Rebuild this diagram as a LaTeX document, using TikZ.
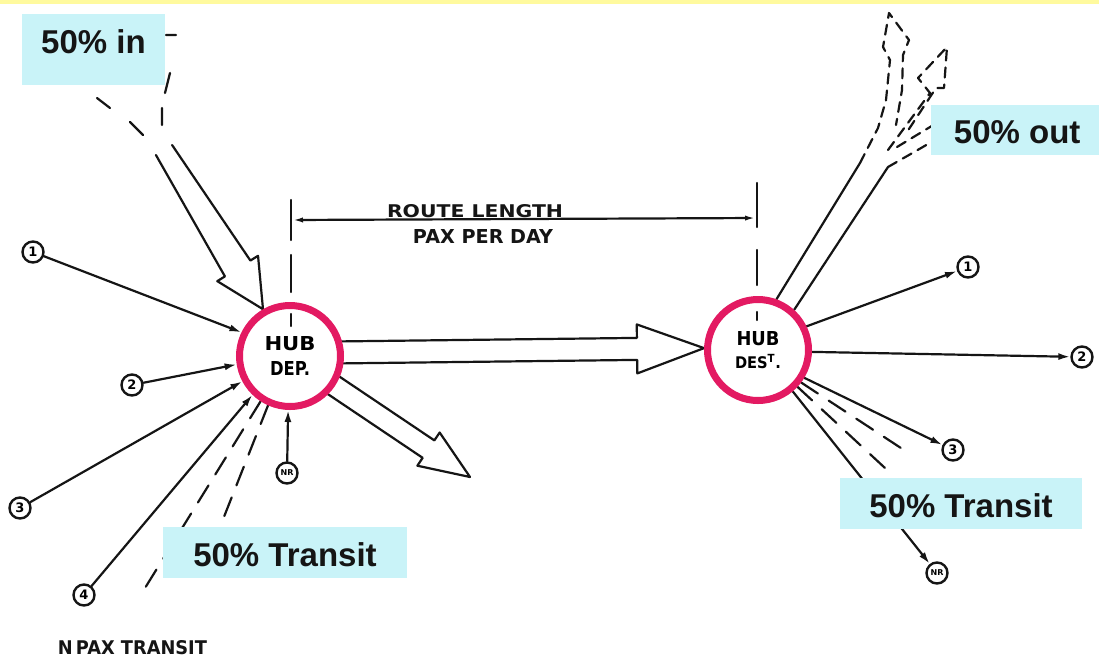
\documentclass[tikz,border=0pt]{standalone}
\usepackage{fontspec}
\setmainfont{Liberation Sans}
\newfontfamily\hand{DejaVu Sans}
\usepackage{graphicx}
\usetikzlibrary{calc,arrows.meta}
\pgfdeclarelayer{bg}
\pgfsetlayers{bg,main}
\definecolor{hubpink}{HTML}{E31A62}
\definecolor{boxcyan}{HTML}{C9F3F8}
\definecolor{bandyellow}{HTML}{FFFA9E}
\definecolor{ink}{HTML}{151515}
\tikzset{
  pen/.style={line width=2.2pt, line cap=round, line join=round, draw=ink},
  fat/.style={pen},
  hub/.style={circle, draw=hubpink, fill=white, line width=7pt, minimum size=101pt,
    inner sep=0pt, align=center, font=\hand\fontsize{10}{10}\selectfont},
  num/.style={circle, draw=ink, line width=2.4pt, minimum size=21pt, inner sep=0pt,
    font=\hand\bfseries\fontsize{13}{13}\selectfont},
  nrnum/.style={num, font=\hand\bfseries\fontsize{8}{8}\selectfont},
  thinarrow/.style={pen, -{Latex[length=12pt,width=7pt]}},
  dsh/.style={pen, dash pattern=on 20pt off 13pt},
  dshs/.style={pen, dash pattern=on 10pt off 7pt},
  lbl/.style={fill=boxcyan, inner sep=0pt, text=ink, text depth=0pt,
    font=\bfseries\fontsize{33}{36}\selectfont},
  handtext/.style={inner sep=0pt, text=ink}
}
% #1 options, #2 tail, #3 tip, #4 half width at tail, #5 half width at head base,
% #6 half head width, #7 head length
\newcommand\fatarrow[7][]{%
  \coordinate (fa-h) at ($(#3)!#7!(#2)$);
  \draw[fat,#1] ($(#2)!#4!90:(#3)$) -- ($(fa-h)!#5!90:(#3)$) -- ($(fa-h)!#6!90:(#3)$)
    -- (#3) -- ($(fa-h)!#6!-90:(#3)$) -- ($(fa-h)!#5!-90:(#3)$) -- ($(#2)!#4!-90:(#3)$);}
\begin{document}
\begin{tikzpicture}[x=1pt,y=-1pt]
\useasboundingbox (0,0) rectangle (1099,662);

% hubs
\node[hub] (dep) at (290,356) {\resizebox{51pt}{14pt}{\bfseries HUB}\\[9pt]\resizebox{40pt}{14pt}{\bfseries DEP.}};
\node[hub] (dest) at (758,350) {\resizebox{43pt}{14pt}{\bfseries HUB}\\[8pt]\resizebox{46pt}{14pt}{\bfseries DES\textsuperscript{T}.}};

% numbered end points
\node[num] (n1) at (33,252) {1};
\node[num] (n2) at (132,385) {2};
\node[num] (n3) at (20,508) {3};
\node[num] (n4) at (84,595) {4};
\node[nrnum] (nr1) at (287,473) {NR};
\node[num] (m1) at (968,267) {1};
\node[num] (m2) at (1082,357) {2};
\node[num] (m3) at (953,450) {3};
\node[nrnum] (mnr) at (937,573) {NR};

% free ends
\coordinate (inT) at (164,150);
\coordinate (depc) at (290,353);
\coordinate (outT) at (470,477);
\coordinate (ol) at (860,163);
\coordinate (orr) at (888,167);
\coordinate (dimL) at (291,220);
\coordinate (dimR) at (757,218);
\coordinate (tr1) at (145,588);
\coordinate (tr2) at (203,570);
\coordinate (dt1) at (907,452);
\coordinate (dt2) at (885,468);

% labels (boxes)
\node[lbl, minimum width=143pt, minimum height=71pt, text height=24pt, text depth=17pt] (bin) at (93.5,49.5) {50\% in};
\node[lbl, minimum width=244pt, minimum height=51pt, text height=27pt] (btl) at (285,552.5) {50\% Transit};
\node[lbl, minimum width=242pt, minimum height=51pt, text height=28pt] (btr) at (961,503.5) {50\% Transit};
\node[lbl, minimum width=170pt, minimum height=50pt, text height=26pt, anchor=west] (bout) at (931,130) {\hspace*{2pt}50\% out};

% handwritten texts
\node[handtext] (rl) at (475,211.5) {\resizebox{176pt}{13pt}{\hand\bfseries ROUTE LENGTH}};
\node[handtext] (ppd) at (483,236.5) {\resizebox{140pt}{14pt}{\hand\bfseries PAX PER DAY}};
\node[handtext] (npx) at (132.5,647.5) {\resizebox{149pt}{14pt}{\hand\bfseries N\,PAX TRANSIT}};

% dimension line and ticks
\draw[pen] (291,200) -- (291,240) (291,255) -- (291,292) (291,314) -- (291,326);
\draw[pen] (757,183) -- (757,227) (757,250) -- (757,285) (757,312) -- (757,320);
\draw[pen, {Latex[length=12pt,width=5pt]}-{Latex[length=12pt,width=5pt]}] (dimL) -- (dimR);

\begin{pgfonlayer}{bg}
\fill[white] (0,0) rectangle (1099,662);
\fill[bandyellow] (0,0) rectangle (1099,3.5);

% big hollow arrows
\fatarrow{inT}{dep.120}{9.5pt}{15pt}{24pt}{48pt}
\fatarrow{depc}{dest.178}{11pt}{11pt}{24.5pt}{67pt}
\fatarrow{dep.center}{outT}{10.5pt}{10.5pt}{20pt}{50pt}

% dashed tails of the inbound arrow
\draw[pen] (143,135) -- (130,122) (110,108) -- (97,98);
\draw[pen] (162,125) -- (162,108) (165,93) -- (170,73) (166,35) -- (176,35);

% outbound 50% out
\draw[pen] (dest.70) -- (ol);
\draw[pen] (dest.48) -- (orr);
\draw[dshs] (ol) -- (878,128) -- (886,100) -- (890,60) -- (883,47) -- (889,13)
  -- (909,40) -- (903,55) -- (902,90) -- (896,125);
\draw[dshs] (888,150) -- (930,93) -- (918,78) -- (947,47) -- (944,88) -- (936,88) -- (905,135);
\draw[dshs] (orr) -- (935,140);
\draw[dshs] (897,147) -- (935,124);

% feeders into HUB DEP
\draw[thinarrow] (n1) -- (dep.154);
\draw[thinarrow] (n2) -- (dep.189);
\draw[thinarrow] (n3) -- (dep.208);
\draw[thinarrow] (n4) -- (dep.226);
\draw[thinarrow] (nr1) -- (dep.268);
\draw[dsh] (dep.237) -- (tr1);
\draw[dsh] (dep.246) -- (tr2);

% distribution from HUB DEST
\draw[thinarrow] (dest.26) -- (m1);
\draw[thinarrow] (dest.-2) -- (m2);
\draw[thinarrow] (dest.-31) -- (m3);
\draw[thinarrow] (dest.-50) -- (mnr);
\draw[dsh] (dest.-37) -- (dt1);
\draw[dsh] (dest.-43) -- (dt2);
\end{pgfonlayer}
\end{tikzpicture}
\end{document}
